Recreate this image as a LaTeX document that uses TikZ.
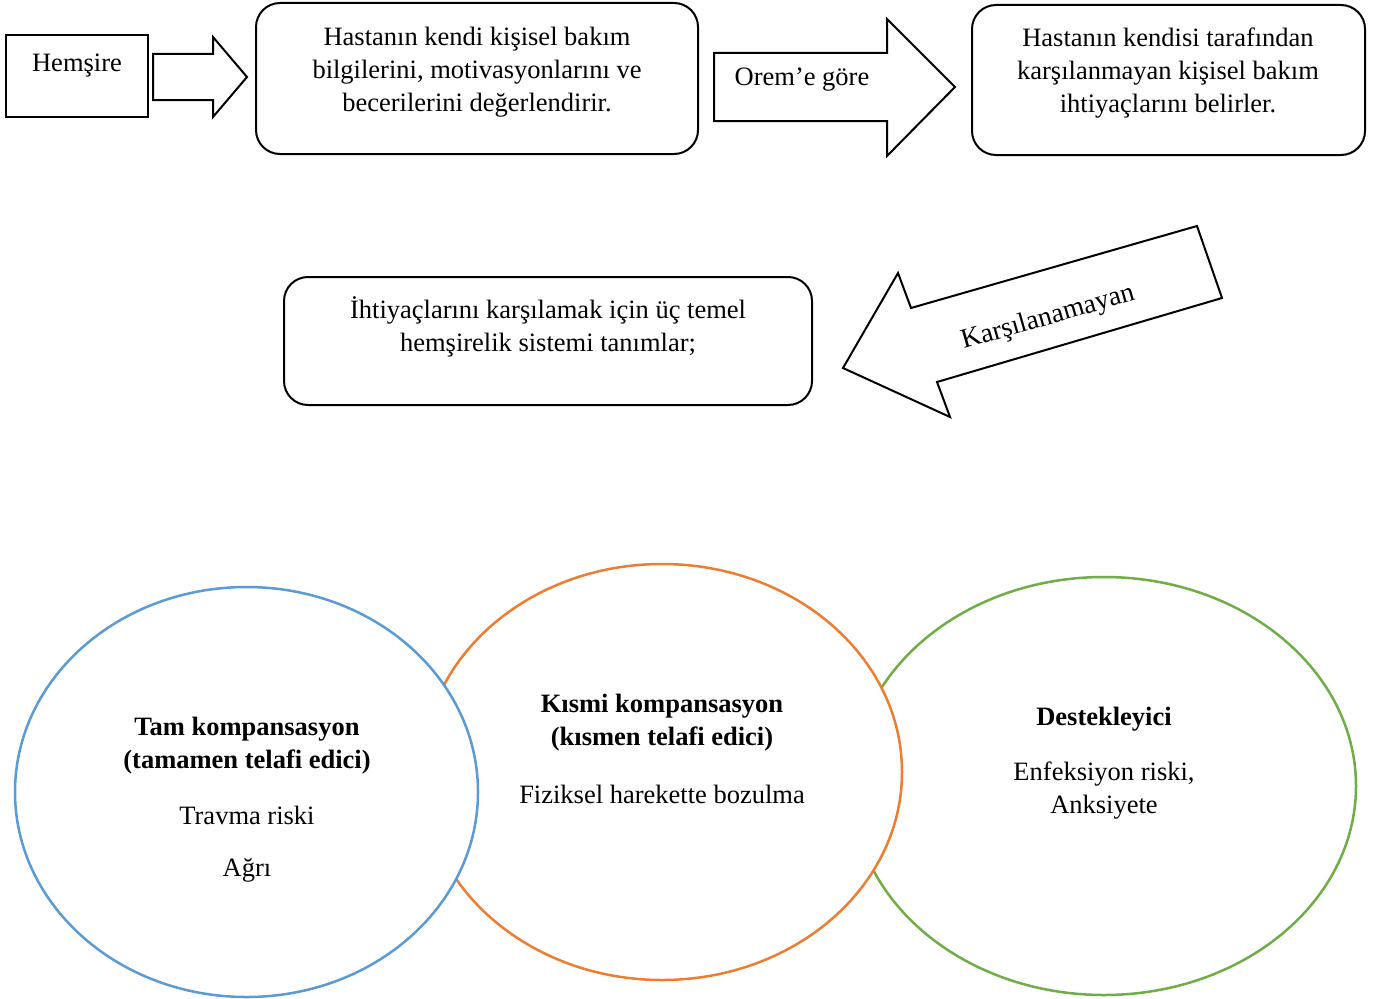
\documentclass[tikz,border=0pt]{standalone}
\usepackage{fontspec}
\setmainfont{Liberation Serif}
\usetikzlibrary{shapes.geometric}
\definecolor{oblue}{HTML}{5B9BD5}
\definecolor{oorange}{HTML}{ED7D31}
\definecolor{ogreen}{HTML}{70AD47}
\begin{document}
\begin{tikzpicture}[x=1pt,y=-1pt,
  every node/.style={font=\fontsize{26.5}{33}\selectfont, inner sep=0pt},
  rbox/.style={draw, line width=2pt, rounded corners=24pt},
  blk/.style={draw, line width=2pt, fill=white, line join=miter},
  ell/.style={ellipse, draw, fill=white, line width=2.5pt},
  txt/.style={align=center},
  bt/.style={align=center, font=\fontsize{26.5}{33}\selectfont\bfseries}]
\useasboundingbox (0,0) rectangle (1375,998);

% top row
\node[draw, line width=1.2pt, minimum width=142pt, minimum height=82pt] (hem) at (77,76) {};
\node (hemt) at (77,66) {Hemşire};
\draw[blk] (153,54) -- (213,54) -- (213,37) -- (247,77) -- (213,117) -- (213,100) -- (153,100) -- cycle;

\node[rbox, minimum width=442pt, minimum height=151pt] (b2) at (477,78.5) {};
\node[txt] (b2t) at (477,72.5) {Hastanın kendi kişisel bakım\\bilgilerini, motivasyonlarını ve\\becerilerini değerlendirir.};

\draw[blk] (714,53) -- (887,53) -- (887,19) -- (955,87) -- (887,156) -- (887,121) -- (714,121) -- cycle;
\node (orem) at (802,80) {Orem’e göre};

\node[rbox, minimum width=393pt, minimum height=150pt] (b3) at (1168.5,80) {};
\node[txt] (b3t) at (1168,73.5) {Hastanın kendisi tarafından\\karşılanmayan kişisel bakım\\ihtiyaçlarını belirler.};

% middle row
\node[rbox, minimum width=528pt, minimum height=128pt] (b4) at (548,341) {};
\node[txt] (b4t) at (548,327) {İhtiyaçlarını karşılamak için üç temel\\hemşirelik sistemi tanımlar;};

\draw[blk] (1197,226) -- (1222,298) -- (937,382) -- (950,417) -- (843,368) -- (898,273) -- (911,308) -- cycle;
\node[rotate=16, font=\fontsize{27.5}{33}\selectfont] (kar) at (1048,318) {Karşılanamayan};

% ellipses
\node[ell, draw=ogreen, minimum width=504pt, minimum height=418pt] (eg) at (1104,786) {};
\node[ell, draw=oorange, minimum width=480pt, minimum height=416pt] (eo) at (662,772) {};
\node[ell, draw=oblue, minimum width=463pt, minimum height=410pt] (eb) at (246.5,792) {};

\node[bt] (ebt) at (247,746) {Tam kompansasyon\\(tamamen telafi edici)};
\node (eb1) at (247,815.5) {Travma riski};
\node (eb2) at (247,870.5) {Ağrı};

\node[bt] (eot) at (662,723) {Kısmi kompansasyon\\(kısmen telafi edici)};
\node (eo1) at (662,794) {Fiziksel harekette bozulma};

\node[bt] (egt) at (1104,719.5) {Destekleyici};
\node[txt] (eg1) at (1104,791) {Enfeksiyon riski,\\Anksiyete};
\end{tikzpicture}
\end{document}
